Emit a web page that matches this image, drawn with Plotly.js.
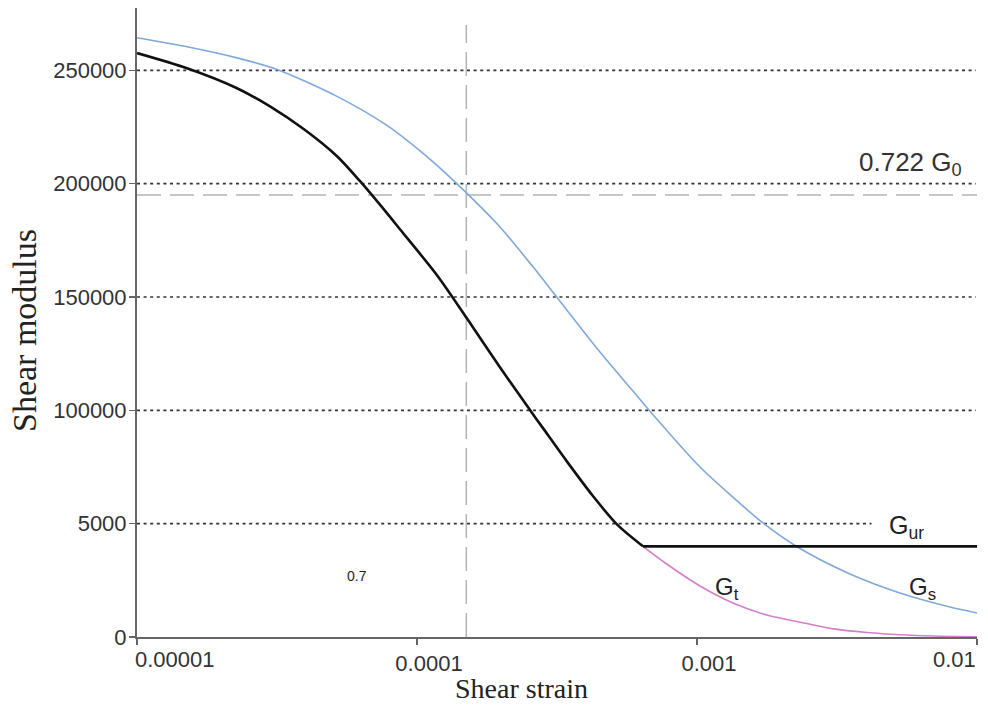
<!DOCTYPE html>
<html>
<head>
<meta charset="utf-8">
<script src="https://cdn.plot.ly/plotly-3.0.1.min.js"></script>
<style>html,body{margin:0;padding:0;background:#fff;}#chart{width:988px;height:712px;}</style>
</head>
<body>
<div id="chart"></div>
<script>
// ---- data ----
// black curve (G decreasing until the unloading/reloading limit)
const strainG = [1.0e-5, 1.509e-5, 2.276e-5, 2.985e-5, 3.948e-5, 5.18e-5, 6.26e-5, 7.81e-5, 8.69e-5, 1.179e-4, 1.505e-4, 1.978e-4, 2.533e-4, 2.818e-4, 3.424e-4, 4.25e-4, 5.166e-4, 6.413e-4];
const modulusG = [257600, 250900, 242100, 234100, 224000, 212100, 201100, 187000, 179900, 159600, 140700, 119000, 100100, 92150, 77600, 62200, 49800, 40000];

// G_ur plateau
const strainGur = [6.413e-4, 1.0e-2];
const modulusGur = [40000, 40000];

// G_s secant modulus
const strainGs = [1.0e-5, 1.509e-5, 2.276e-5, 3.162e-5, 5.18e-5, 7.81e-5, 1.0e-4, 1.179e-4, 1.505e-4, 1.978e-4, 2.596e-4, 3.155e-4, 4.503e-4, 5.907e-4, 6.794e-4, 1.025e-3, 1.344e-3, 1.72e-3, 2.276e-3, 3.518e-3, 5.309e-3, 8.01e-3, 1.0e-2];
const modulusGs = [264400, 260400, 255500, 250400, 238500, 225700, 215600, 208100, 195800, 180900, 163300, 150000, 125700, 108500, 99600, 75000, 61700, 50300, 39800, 27800, 19400, 13200, 10600];

// G_t tangent modulus
const strainGt = [6.413e-4, 7.794e-4, 1.025e-3, 1.344e-3, 1.774e-3, 2.41e-3, 3.068e-3, 4.047e-3, 5.309e-3, 6.98e-3, 1.0e-2];
const modulusGt = [40000, 32200, 22500, 15000, 9700, 6200, 3600, 2000, 1000, 440, 130];

const gammaRef = [1.5e-4];        // vertical reference strain
const modulusRef = [195000];      // 0.722 G0
const modulusG0 = [270000];

const xTickVals = [1e-5, 1e-4, 1e-3, 1e-2];
const xTickText = ['0.00001', '0.0001', '0.001', '0.01'];
const yTickVals = [0, 50000, 100000, 150000, 200000, 250000];
const yTickText = ['0', '5000', '100000', '150000', '200000', '250000'];

const curveLabels = ['0.722 G<sub>0</sub>', 'G<sub>ur</sub>', 'G<sub>t</sub>', 'G<sub>s</sub>', '0.7'];
const titleX = 'Shear strain';
const titleY = 'Shear modulus';

// ---- figure ----
const sans = 'Liberation Sans, Arial, sans-serif';
const serif = 'Liberation Serif, Times New Roman, serif';
const tickFont = {family: sans, size: 22, color: '#333'};

const traces = [
  {x: strainGs, y: modulusGs, mode: 'lines', line: {color: '#7fa8db', width: 1.6, shape: 'spline', smoothing: 0.8}, hoverinfo: 'none', showlegend: false},
  {x: strainGt, y: modulusGt, mode: 'lines', line: {color: '#d57ec9', width: 1.6, shape: 'spline', smoothing: 0.8}, hoverinfo: 'none', showlegend: false},
  {x: strainG, y: modulusG, mode: 'lines', line: {color: '#111111', width: 2.6, shape: 'spline', smoothing: 0.8}, hoverinfo: 'none', showlegend: false},
  {x: strainGur, y: modulusGur, mode: 'lines', line: {color: '#111111', width: 2.6}, hoverinfo: 'none', showlegend: false}
];

const shapes = [];
yTickVals.forEach(v => {
  if (v === 0) return;
  shapes.push({type: 'line', xref: 'x', yref: 'y', layer: 'below',
    x0: 1e-5, x1: (v === 50000 ? 4.2e-3 : 9.9e-3), y0: v, y1: v,
    line: {color: '#333', width: 1.6, dash: '3px,3.6px'}});
});
shapes.push({type: 'line', xref: 'x', yref: 'y', layer: 'below',
  x0: gammaRef[0], x1: gammaRef[0], y0: 0, y1: modulusG0[0],
  line: {color: '#b4b4b4', width: 1.5, dash: '24px,9px'}});
shapes.push({type: 'line', xref: 'x', yref: 'y', layer: 'below',
  x0: 1e-5, x1: 1e-2, y0: modulusRef[0], y1: modulusRef[0],
  line: {color: '#b4b4b4', width: 1.5, dash: '24px,9px'}});

const base = {xref: 'x', yref: 'y', showarrow: false, xanchor: 'center', yanchor: 'middle'};
const annotations = [
  {x: Math.log10(5.8e-3), y: 209000, text: curveLabels[0], font: {family: sans, size: 26, color: '#333'}},
  {x: Math.log10(5.58e-3), y: 48500, text: curveLabels[1], font: {family: sans, size: 25, color: '#222'}},
  {x: Math.log10(1.28e-3), y: 21200, text: curveLabels[2], font: {family: sans, size: 24, color: '#222'}},
  {x: Math.log10(6.41e-3), y: 21200, text: curveLabels[3], font: {family: sans, size: 24, color: '#222'}},
  {x: Math.log10(6.1e-5), y: 26900, text: curveLabels[4], font: {family: sans, size: 14, color: '#222'}},
  // edge tick labels kept inside the plot width as in the reference
  {x: Math.log10(xTickVals[0]), xshift: -4, y: 0, yref: 'y', yanchor: 'top', yshift: -8, xanchor: 'left', text: xTickText[0], font: tickFont},
  {x: Math.log10(xTickVals[3]), xshift: 1, y: 0, yref: 'y', yanchor: 'top', yshift: -8, xanchor: 'right', text: xTickText[3], font: tickFont},
  {xref: 'paper', yref: 'paper', x: (521 - 137) / 840, y: (637 - 688) / 629, text: titleX, font: {family: serif, size: 28, color: '#222'}},
  {xref: 'paper', yref: 'paper', x: (24 - 137) / 840, y: (637 - 331) / 629, text: titleY, textangle: -90, font: {family: serif, size: 34, color: '#222'}}
].map(a => Object.assign({}, base, a));

const layout = {
  width: 988, height: 712,
  margin: {l: 137, r: 11, t: 8, b: 75, pad: 0},
  paper_bgcolor: '#fff', plot_bgcolor: '#fff',
  showlegend: false,
  xaxis: {type: 'log', range: [-5, -2], tickvals: xTickVals,
    ticktext: ['', xTickText[1], xTickText[2], ''],
    ticklabelshift: 12,
    showgrid: false, zeroline: false, showline: true, linecolor: '#666', linewidth: 2,
    ticks: 'outside', ticklen: 6, tickwidth: 1.5, tickcolor: '#666',
    tickfont: tickFont},
  yaxis: {range: [0, 277500], tickvals: yTickVals, ticktext: yTickText,
    showgrid: false, zeroline: false, showline: true, linecolor: '#666', linewidth: 2,
    ticks: 'outside', ticklen: 6, tickwidth: 1.5, tickcolor: '#666',
    ticklabelstandoff: -2,
    tickfont: tickFont},
  shapes: shapes,
  annotations: annotations
};

Plotly.newPlot('chart', traces, layout, {staticPlot: true, displayModeBar: false});
</script>
</body>
</html>
